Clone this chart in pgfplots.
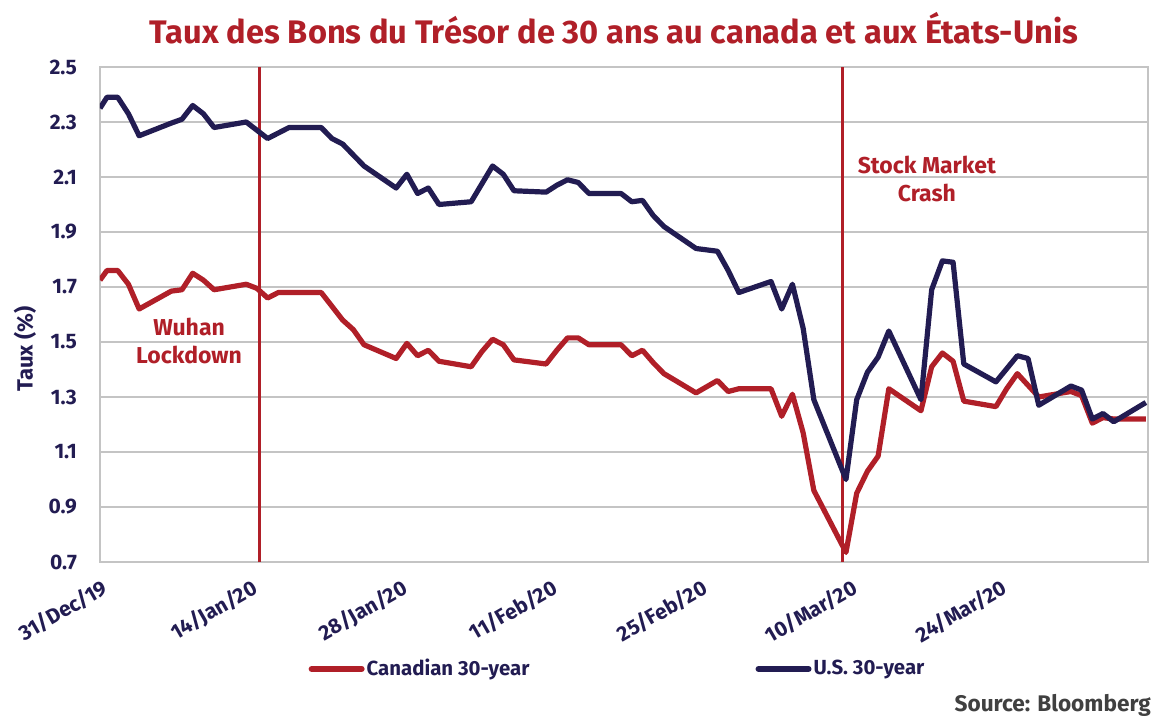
\documentclass[border=0pt]{standalone}
\usepackage{fontspec}
\setmainfont{Fira Sans}
\usepackage{pgfplots}
\usepackage{pgfplotstable}
\pgfplotsset{compat=1.18}
\definecolor{cred}{HTML}{B01F28}
\definecolor{cnavy}{HTML}{221C52}
\definecolor{cgrid}{HTML}{C4C4C4}
\definecolor{csrc}{HTML}{404040}

\pgfplotstableread{
day us
-0.654 2.35
0 2.39
1 2.39
2 2.33
3 2.25
6 2.296
7 2.31
8 2.36
9 2.33
10 2.28
13 2.30
14 2.27
15 2.24
17 2.28
20 2.28
21 2.24
22 2.22
24 2.14
27 2.06
28 2.11
29 2.04
30 2.06
31 2.00
34 2.01
36 2.14
37 2.11
38 2.05
41 2.045
42 2.07
43 2.09
44 2.08
45 2.04
48 2.04
49 2.01
50 2.015
51 1.96
52 1.92
55 1.84
57 1.83
58 1.76
59 1.68
62 1.72
63 1.62
64 1.71
65 1.55
66 1.29
69 1.00
70 1.29
71 1.39
72 1.445
73 1.54
76 1.29
77 1.69
78 1.795
79 1.79
80 1.42
83 1.355
85 1.45
86 1.44
87 1.27
90 1.34
91 1.325
92 1.22
93 1.24
94 1.21
97 1.28
}\usdata

\pgfplotstableread{
day ca
-0.654 1.725
0 1.76
1 1.76
2 1.71
3 1.62
6 1.685
7 1.69
8 1.75
9 1.725
10 1.69
13 1.71
14 1.695
15 1.66
16 1.68
17 1.68
20 1.68
21 1.63
22 1.58
23 1.545
24 1.49
27 1.44
28 1.495
29 1.45
30 1.47
31 1.43
34 1.41
35 1.465
36 1.51
37 1.49
38 1.435
41 1.42
42 1.47
43 1.515
44 1.515
45 1.49
48 1.49
49 1.45
50 1.47
51 1.425
52 1.385
55 1.315
57 1.36
58 1.32
59 1.33
62 1.33
63 1.23
64 1.31
65 1.17
66 0.96
69 0.735
70 0.95
71 1.03
72 1.085
73 1.33
76 1.25
77 1.41
78 1.46
79 1.43
80 1.285
83 1.265
84 1.33
85 1.385
87 1.30
90 1.32
91 1.305
92 1.205
93 1.225
94 1.22
97 1.22
}\cadata

\begin{document}
\begin{tikzpicture}[x=1pt,y=1pt]
\useasboundingbox (-50,-78.5) rectangle (526.5,281);
\begin{axis}[
  at={(0,0)}, anchor=south west,
  scale only axis, width=524pt, height=247.5pt,
  xmin=-0.654, xmax=97.2, ymin=0.7, ymax=2.5,
  xtick={0,14,28,42,56,70,84},
  xticklabels={31/Dec/19,14/Jan/20,28/Jan/20,11/Feb/20,25/Feb/20,10/Mar/20,24/Mar/20},
  ytick={0.7,0.9,1.1,1.3,1.5,1.7,1.9,2.1,2.3,2.5},
  /pgf/number format/fixed, /pgf/number format/fixed zerofill, /pgf/number format/precision=1,
  /pgf/number format/assume math mode=true,
  ymajorgrids, grid style={cgrid, line width=0.9pt},
  axis line style={cgrid, line width=0.9pt},
  major tick length=0pt,
  tick label style={font=\bfseries\fontsize{10.5}{12}\selectfont, text=cnavy},
  yticklabel style={anchor=east, xshift=-8pt},
  xticklabel style={yshift=-3pt, xshift=-2pt, rotate=30, anchor=north east, font=\bfseries\fontsize{10.5}{12}\selectfont},
  ylabel={Taux (\%)},
  ylabel style={at={(axis description cs:-0.0716,0.43)}, anchor=center, font=\bfseries\fontsize{11}{12}\selectfont, text=cnavy},
  legend columns=2,
  legend style={draw=none, fill=none, at={(axis description cs:0.4938,-0.216)}, anchor=center,
    font=\bfseries\fontsize{10.2}{12}\selectfont, text=cnavy, inner sep=0pt,
    nodes={inner sep=1pt},
    /tikz/every even column/.append style={column sep=112pt}},
  legend image code/.code={\draw[#1, line width=3pt, line cap=round] (1.5pt,0pt) -- (26.5pt,0pt);},
  clip mode=individual,
]
\addplot[cred, line width=1.5pt, forget plot] coordinates {(14.2,0.7) (14.2,2.5)};
\addplot[cred, line width=1.5pt, forget plot] coordinates {(68.7,0.7) (68.7,2.5)};
\addplot[cred, line width=2.6pt, line join=round] table[x=day,y=ca] {\cadata};
\addlegendentry{Canadian 30-year}
\addplot[cnavy, line width=2.6pt, line join=round] table[x=day,y=us] {\usdata};
\addlegendentry{U.S. 30-year}
\node[text=cred, font=\bfseries\fontsize{11.5}{14}\selectfont, align=center] at (axis description cs:0.085,0.446) {Wuhan\\Lockdown};
\node[text=cred, font=\bfseries\fontsize{11.5}{14}\selectfont, align=center] at (axis description cs:0.789,0.774) {Stock Market\\Crash};
\node[text=cred, font=\bfseries\fontsize{16.3}{19}\selectfont] at (axis description cs:0.4905,1.079) {Taux des Bons du Trésor de 30 ans au canada et aux États-Unis};
\node[text=csrc, font=\bfseries\fontsize{11.3}{13}\selectfont, anchor=east, inner sep=0pt] at (axis description cs:1.003,-0.29) {Source: Bloomberg};
\end{axis}
\end{tikzpicture}
\end{document}
